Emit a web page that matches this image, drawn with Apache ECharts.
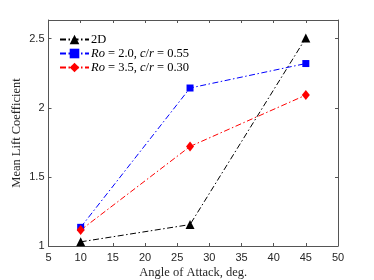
<!DOCTYPE html>
<html><head><meta charset="utf-8">
<script src="https://cdn.jsdelivr.net/npm/echarts@6/dist/echarts.min.js"></script>
<style>html,body{margin:0;padding:0;background:#fff}#c{width:374px;height:280px}</style>
</head><body><div id="c"></div>
<script>
const angles = [10, 27, 45];
const cl2D = [1.03, 1.155, 2.505];
const clRo20 = [1.135, 2.143, 2.32];
const clRo35 = [1.115, 1.72, 2.092];
const seriesNames = ['2D', 'Ro20', 'Ro35'];
const xTicks = [5, 10, 15, 20, 25, 30, 35, 40, 45, 50];
const yTicks = [1, 1.5, 2, 2.5];

const axisColor = '#262626';
const dashDot = [6, 2.5, 1.5, 2.5];
function pts(vals){ return angles.map((a,i)=>[a, vals[i]]); }
const chart = echarts.init(document.getElementById('c'));
const baseX = {type:'value', min:5, max:50, interval:5,
  axisLine:{show:true, lineStyle:{color:'#555', width:1}},
  axisTick:{show:true, inside:true, length:3, lineStyle:{color:'#555'}},
  splitLine:{show:false}};
const baseY = {type:'value', min:1, max:2.635, interval:0.5,
  axisLine:{show:true, lineStyle:{color:'#555', width:1}},
  axisTick:{show:true, inside:true, length:3, lineStyle:{color:'#555'}},
  splitLine:{show:false}};
chart.setOption({
  backgroundColor:'#fff',
  animation:false,
  grid:{left:48.5, right:36, top:20, bottom:34, outerBoundsMode:'none', containLabel:false},
  xAxis:[
    Object.assign({}, baseX, {position:'bottom',
      name:'Angle of Attack, deg.', nameLocation:'middle', nameGap:20, nameMoveOverlap:false,
      nameTextStyle:{fontFamily:'Liberation Serif', fontSize:12.5, color:axisColor},
      axisLabel:{fontFamily:'Liberation Sans', fontSize:11, color:axisColor, margin:6,
        formatter:v=> xTicks.includes(v) ? String(v) : ''}}),
    Object.assign({}, baseX, {position:'top', axisLabel:{show:false}})
  ],
  yAxis:[
    Object.assign({}, baseY, {position:'left',
      name:'Mean Lift Coefficient', nameLocation:'middle', nameGap:25.5, nameMoveOverlap:false,
      nameTextStyle:{fontFamily:'Liberation Serif', fontSize:12.5, color:axisColor},
      axisLabel:{fontFamily:'Liberation Sans', fontSize:11, color:axisColor, margin:4,
        showMaxLabel:false,
        formatter:v=> yTicks.includes(v) ? String(v) : ''}}),
    Object.assign({}, baseY, {position:'right', axisLabel:{show:false}})
  ],
  legend:{
    left:54, top:28, orient:'vertical', itemWidth:29, itemHeight:12, itemGap:1,
    data:seriesNames,
    textStyle:{fontFamily:'Liberation Serif', fontSize:12.5, color:'#000', padding:[0,0,0,-3],
      rich:{i:{fontFamily:'Liberation Serif', fontStyle:'italic', fontSize:12.5, color:'#000'}}},
    formatter:function(n){
      if(n==='Ro20') return '{i|Ro} = 2.0, {i|c}/{i|r} = 0.55';
      if(n==='Ro35') return '{i|Ro} = 3.5, {i|c}/{i|r} = 0.30';
      return n;
    }
  },
  series:[
    {name:'2D', type:'line', data:pts(cl2D), symbol:'triangle', symbolSize:9,
      itemStyle:{color:'#000'}, lineStyle:{color:'#000', width:1, type:dashDot}},
    {name:'Ro20', type:'line', data:pts(clRo20), symbol:'rect', symbolSize:7,
      itemStyle:{color:'#0000ff'}, lineStyle:{color:'#0000ff', width:1, type:dashDot}},
    {name:'Ro35', type:'line', data:pts(clRo35), symbol:'diamond', symbolSize:[8,10],
      itemStyle:{color:'#ff0000'}, lineStyle:{color:'#ff0000', width:1, type:dashDot}}
  ]
});
</script></body></html>
